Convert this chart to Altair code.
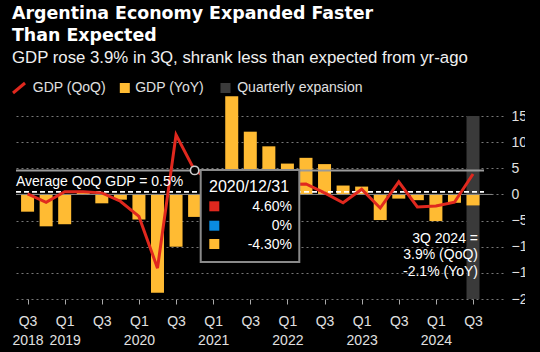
import json
import altair as alt
import pandas as pd

# ---------------- data ----------------
quarters = ["Q3 2018", "Q4 2018", "Q1 2019", "Q2 2019", "Q3 2019", "Q4 2019",
            "Q1 2020", "Q2 2020", "Q3 2020", "Q4 2020", "Q1 2021", "Q2 2021",
            "Q3 2021", "Q4 2021", "Q1 2022", "Q2 2022", "Q3 2022", "Q4 2022",
            "Q1 2023", "Q2 2023", "Q3 2023", "Q4 2023", "Q1 2024", "Q2 2024",
            "Q3 2024"]
gdp_qoq = [0.1, -1.5, 0.5, 0.5, 0.3, -1.3, -4.2, -14.1, 11.4, 4.6, 2.6, -1.2,
           4.0, 1.5, 1.9, 2.0, 0.3, -1.6, 1.0, -2.6, 2.4, -2.4, -2.2, -1.5, 3.9]
gdp_yoy = [-3.3, -6.1, -5.7, 0.6, -1.7, -1.0, -4.8, -18.8, -10.0, -4.3, 2.5, 18.8,
           12.0, 9.2, 5.9, 7.0, 5.8, 1.7, 1.5, -4.9, -0.8, -1.1, -5.1, -1.6, -2.1]
expansion_quarters = ["Q3 2024"]
tick_labels = [["Q3", "2018"], ["Q1", "2019"], ["Q3"], ["Q1", "2020"], ["Q3"],
               ["Q1", "2021"], ["Q3"], ["Q1", "2022"], ["Q3"], ["Q1", "2023"],
               ["Q3"], ["Q1", "2024"], ["Q3"]]
y_ticks = [15, 10, 5, 0, -5, -10, -15, -20]
avg_qoq = 0.5
hover_quarter = "Q4 2020"
hover_date = "2020/12/31"
hover_blue = "0%"

title_lines = ["Argentina Economy Expanded Faster", "Than Expected"]
subtitle = "GDP rose 3.9% in 3Q, shrank less than expected from yr-ago"
note_lines = ["3Q 2024 =", "3.9% (QoQ)", "-2.1% (YoY)"]
avg_label = f"Average QoQ GDP = {avg_qoq}%"

# ---------------- style ----------------
FONT = "Liberation Sans"
TITLE_FONT = "DejaVu Sans"
RED = "#E0281E"
YELLOW = "#FFBB33"
BLUE = "#0A8CE0"
BAND = "#3a3a3a"
TXT = "#e0e0e0"

df = pd.DataFrame({"quarter": quarters, "idx": list(range(len(quarters))),
                   "qoq": gdp_qoq, "yoy": gdp_yoy})
band_df = df[df["quarter"].isin(expansion_quarters)]
hover_i = quarters.index(hover_quarter)
one = pd.DataFrame({"a": [0]})

xscale = alt.Scale(domain=[-0.354, 25.346], nice=False, zero=False)
yscale = alt.Scale(domain=[-20, 15], nice=False, zero=False)

x_axis = alt.Axis(values=list(range(0, 25, 2)),
                  labelExpr=f"{json.dumps(tick_labels)}[round(datum.value/2)]",
                  title=None, grid=False, domain=False, ticks=True,
                  tickColor="#aaaaaa", tickSize=5, labelPadding=10,
                  labelLineHeight=19, labelFontSize=14, labelFont=FONT,
                  labelColor=TXT, labelFlush=False, labelOverlap=False,
                  labelBound=False)
y_axis = alt.Axis(values=y_ticks, orient="right", title=None, grid=True,
                  gridColor="#777777", gridDash=[2, 3], gridWidth=1,
                  domain=False, ticks=False, labelPadding=8, labelAlign="left",
                  labelFontSize=14, labelFont=FONT, labelColor=TXT)


def XF(field="idx:Q"):
    return alt.X(field, scale=xscale, axis=x_axis)


def YF(field):
    return alt.Y(field, scale=yscale, axis=y_axis)


def YD(value):
    return alt.Y(datum=value, scale=yscale, axis=y_axis)


band = alt.Chart(band_df).mark_bar(size=13, color=BAND).encode(
    x=XF(), y=YD(15), y2=alt.Y2(datum=-20))

bars = alt.Chart(df).mark_bar(size=13, color=YELLOW).encode(
    x=XF(), y=YF("yoy:Q"))

zero = alt.Chart(one).mark_rule(color="#888888", strokeWidth=1).encode(
    x=alt.value(0), x2=alt.value(476), y=YD(0))

cross = alt.Chart(one).mark_rule(color="#9a9a9a", strokeWidth=2).encode(
    x=alt.value(0), x2=alt.value(468), y=YD(gdp_qoq[hover_i]))

avg = alt.Chart(one).mark_rule(color="white", strokeWidth=1.8, strokeDash=[5, 3]).encode(
    x=alt.value(0), x2=alt.value(468), y=YD(avg_qoq))

line = alt.Chart(df).mark_line(color=RED, strokeWidth=3).encode(
    x=XF(), y=YF("qoq:Q"))

hover = alt.Chart(df).transform_filter(alt.datum.quarter == hover_quarter).mark_point(
    shape="circle", size=70, filled=True, fill="black", stroke="#cccccc",
    strokeWidth=1.6, opacity=1).encode(x=XF(), y=YF("qoq:Q"))


def txt(text, x, y, size=14, color=TXT, align="left", baseline="middle",
        weight="normal", font=FONT):
    return alt.Chart(one).mark_text(text=text, align=align, baseline=baseline,
                                    font=font, fontSize=size, color=color,
                                    fontWeight=weight).encode(
        x=alt.value(x), y=alt.value(y))


def sq(x, y, color, size=100):
    return alt.Chart(one).mark_square(size=size, color=color, opacity=1).encode(
        x=alt.value(x), y=alt.value(y))


avg_text = txt(avg_label, 0, 70, baseline="alphabetic", color="white")

notes = [txt(t, 462, 126.5 + 16.5 * k, align="right", baseline="alphabetic",
             color="white") for k, t in enumerate(note_lines)]

# hover tooltip
tip_box = alt.Chart(one).mark_rect(fill="black", stroke="#8a8a8a", strokeWidth=2).encode(
    x=alt.value(184.7), x2=alt.value(283.3), y=alt.value(54), y2=alt.value(146))
tip = [tip_box,
       txt(hover_date, 193, 71, size=16, color="white"),
       sq(198.3, 90.3, RED), sq(198.3, 109.7, BLUE), sq(198.3, 128, YELLOW),
       txt(f"{gdp_qoq[hover_i]:.2f}%", 276, 91, color="white", align="right"),
       txt(hover_blue, 276, 110, color="white", align="right"),
       txt(f"{gdp_yoy[hover_i]:.2f}%", 276, 128.5, color="white", align="right")]

# legend
leg_slash = alt.Chart(one).mark_rule(color=RED, strokeWidth=3).encode(
    x=alt.value(-3), y=alt.value(-23), x2=alt.value(9), y2=alt.value(-33))
legend = [leg_slash,
          txt("GDP (QoQ)", 16.8, -28),
          sq(108.8, -28, YELLOW),
          txt("GDP (YoY)", 119.2, -28),
          sq(209.5, -28, BAND),
          txt("Quarterly expansion", 221.2, -28)]

titles = [txt(title_lines[0], -4, -97, size=17.4, color="white", baseline="alphabetic",
              weight="bold", font=TITLE_FONT),
          txt(title_lines[1], -4, -74.6, size=17.4, color="white", baseline="alphabetic",
              weight="bold", font=TITLE_FONT),
          txt(subtitle, -4, -53, size=16.8, color="#f0f0f0", baseline="alphabetic")]

# the source image crops the right-hand axis labels at its edge
edge_mask = alt.Chart(one).mark_rect(fill="black").encode(
    x=alt.value(509), x2=alt.value(530), y=alt.value(-5), y2=alt.value(195))

chart = alt.layer(band, bars, zero, cross, avg, line, hover, avg_text, *notes,
                  *tip, *legend, *titles, edge_mask).properties(
    width=487, height=183,
    padding={"left": 16, "top": 116, "right": 37, "bottom": 53},
    autosize=alt.AutoSizeParams(type="none"),
    background="black",
).configure_view(stroke=None)

chart.save("out.html", embed_options={"renderer": "svg", "actions": False})
